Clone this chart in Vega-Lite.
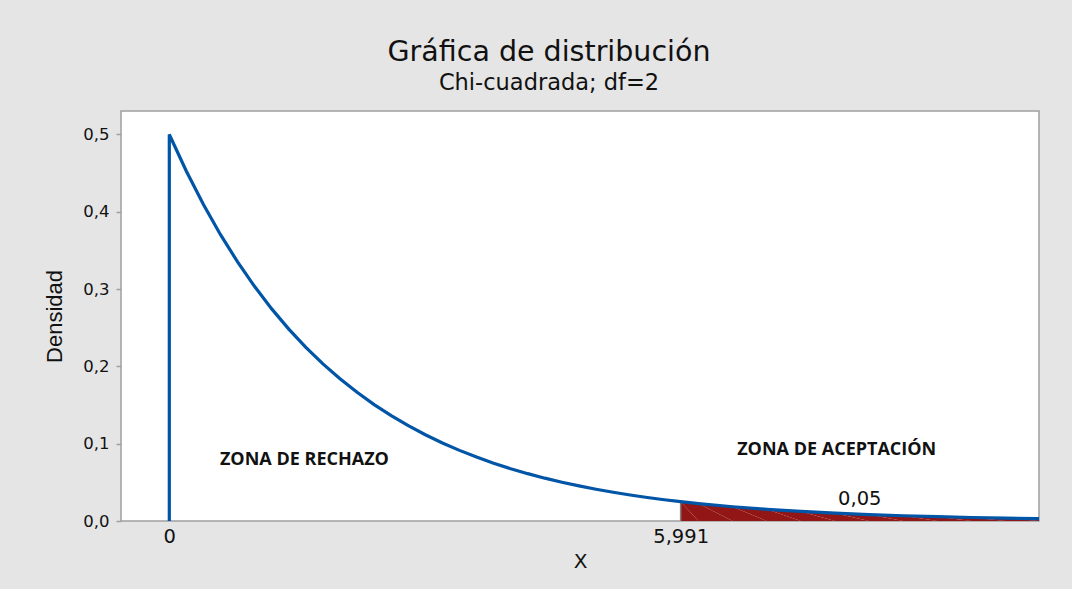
{
  "$schema": "https://vega.github.io/schema/vega-lite/v6.json",
  "autosize": "none",
  "width": 918,
  "height": 410,
  "padding": {"left": 121, "top": 111, "right": 33, "bottom": 68},
  "background": "#e5e5e5",
  "title": {
    "text": "Gráfica de distribución",
    "subtitle": "Chi-cuadrada; df=2",
    "anchor": "middle",
    "dx": -31,
    "offset": 17,
    "font": "DejaVu Sans",
    "fontSize": 28.5,
    "fontWeight": "normal",
    "color": "#111111",
    "subtitleFont": "DejaVu Sans",
    "subtitleFontSize": 22.5,
    "subtitleColor": "#111111",
    "subtitlePadding": 5
  },
  "config": {
    "view": {"fill": "white", "stroke": "#a0a0a0", "strokeWidth": 1.5},
    "axis": {"labelFont": "DejaVu Sans", "titleFont": "DejaVu Sans", "labelColor": "#111111", "titleColor": "#111111", "grid": false, "domain": false}
  },
  "datasets": {
    "curve": [
      {"i": 0, "x": 0, "y": 0},
      {"i": 1, "x": 0, "y": 0.5},
      {"i": 2, "x": 0.2, "y": 0.45242},
      {"i": 3, "x": 0.4, "y": 0.40937},
      {"i": 4, "x": 0.6, "y": 0.37041},
      {"i": 5, "x": 0.8, "y": 0.33516},
      {"i": 6, "x": 1.0, "y": 0.30327},
      {"i": 7, "x": 1.2, "y": 0.27441},
      {"i": 8, "x": 1.4, "y": 0.24829},
      {"i": 9, "x": 1.6, "y": 0.22466},
      {"i": 10, "x": 1.8, "y": 0.20328},
      {"i": 11, "x": 2.0, "y": 0.18394},
      {"i": 12, "x": 2.2, "y": 0.16644},
      {"i": 13, "x": 2.4, "y": 0.1506},
      {"i": 14, "x": 2.6, "y": 0.13627},
      {"i": 15, "x": 2.8, "y": 0.1233},
      {"i": 16, "x": 3.0, "y": 0.11157},
      {"i": 17, "x": 3.2, "y": 0.10095},
      {"i": 18, "x": 3.4, "y": 0.09134},
      {"i": 19, "x": 3.6, "y": 0.08265},
      {"i": 20, "x": 3.8, "y": 0.07478},
      {"i": 21, "x": 4.0, "y": 0.06767},
      {"i": 22, "x": 4.2, "y": 0.06123},
      {"i": 23, "x": 4.4, "y": 0.0554},
      {"i": 24, "x": 4.6, "y": 0.05013},
      {"i": 25, "x": 4.8, "y": 0.04536},
      {"i": 26, "x": 5.0, "y": 0.04104},
      {"i": 27, "x": 5.2, "y": 0.03714},
      {"i": 28, "x": 5.4, "y": 0.0336},
      {"i": 29, "x": 5.6, "y": 0.03041},
      {"i": 30, "x": 5.8, "y": 0.02751},
      {"i": 31, "x": 5.991, "y": 0.02501},
      {"i": 32, "x": 6.2, "y": 0.02252},
      {"i": 33, "x": 6.6, "y": 0.01844},
      {"i": 34, "x": 7.0, "y": 0.0151},
      {"i": 35, "x": 7.4, "y": 0.01236},
      {"i": 36, "x": 7.8, "y": 0.01012},
      {"i": 37, "x": 8.2, "y": 0.00829},
      {"i": 38, "x": 8.6, "y": 0.00679},
      {"i": 39, "x": 9.0, "y": 0.00555},
      {"i": 40, "x": 9.4, "y": 0.00455},
      {"i": 41, "x": 9.8, "y": 0.00372},
      {"i": 42, "x": 10.19, "y": 0.00306}
    ]
  },
  "encoding": {
    "x": {
      "field": "x", "type": "quantitative",
      "scale": {"domain": [-0.566, 10.19], "nice": false, "zero": false},
      "axis": {"values": [0, 5.991], "ticks": false, "labelFontSize": 19.5, "labelPadding": 6,
               "labelExpr": "replace(format(datum.value, '.3~f'), '.', ',')",
               "title": "X", "titleFontSize": 20, "titleFontWeight": "normal", "titlePadding": 6}
    },
    "y": {
      "field": "y", "type": "quantitative",
      "scale": {"domain": [0, 0.5304], "nice": false},
      "axis": {"values": [0, 0.1, 0.2, 0.3, 0.4, 0.5], "tickSize": 5, "tickColor": "#a0a0a0", "tickWidth": 1.5,
               "labelFontSize": 16.5, "labelPadding": 7,
               "labelExpr": "replace(format(datum.value, '.1f'), '.', ',')",
               "title": "Densidad", "titleFont": "Liberation Sans", "titleFontSize": 22, "titleFontWeight": "normal", "titlePadding": 16}
    }
  },
  "layer": [
    {
      "data": {"name": "curve"},
      "transform": [{"filter": "datum.x >= 5.991"}],
      "mark": {"type": "area", "color": "#931616"},
      "encoding": {"order": {"field": "i"}}
    },
    {
      "data": {"values": [{"x": 5.991, "y": 0, "y2": 0.02501}]},
      "mark": {"type": "rule", "color": "#808080", "strokeWidth": 1.5},
      "encoding": {"y2": {"field": "y2"}}
    },
    {
      "data": {"name": "curve"},
      "mark": {"type": "line", "color": "#0055a6", "strokeWidth": 3.2},
      "encoding": {"order": {"field": "i"}}
    },
    {
      "data": {"values": [
        {"x": 1.583, "y": 0.0785, "label": "ZONA DE RECHAZO"},
        {"x": 7.82, "y": 0.0917, "label": "ZONA DE ACEPTACIÓN"}
      ]},
      "mark": {"type": "text", "font": "Open Sans", "fontSize": 18, "fontWeight": "bold", "color": "#111111"},
      "encoding": {"text": {"field": "label"}}
    },
    {
      "data": {"values": [{"x": 8.09, "y": 0.0284, "label": "0,05"}]},
      "mark": {"type": "text", "font": "DejaVu Sans", "fontSize": 19.5, "color": "#111111"},
      "encoding": {"text": {"field": "label"}}
    }
  ]
}
